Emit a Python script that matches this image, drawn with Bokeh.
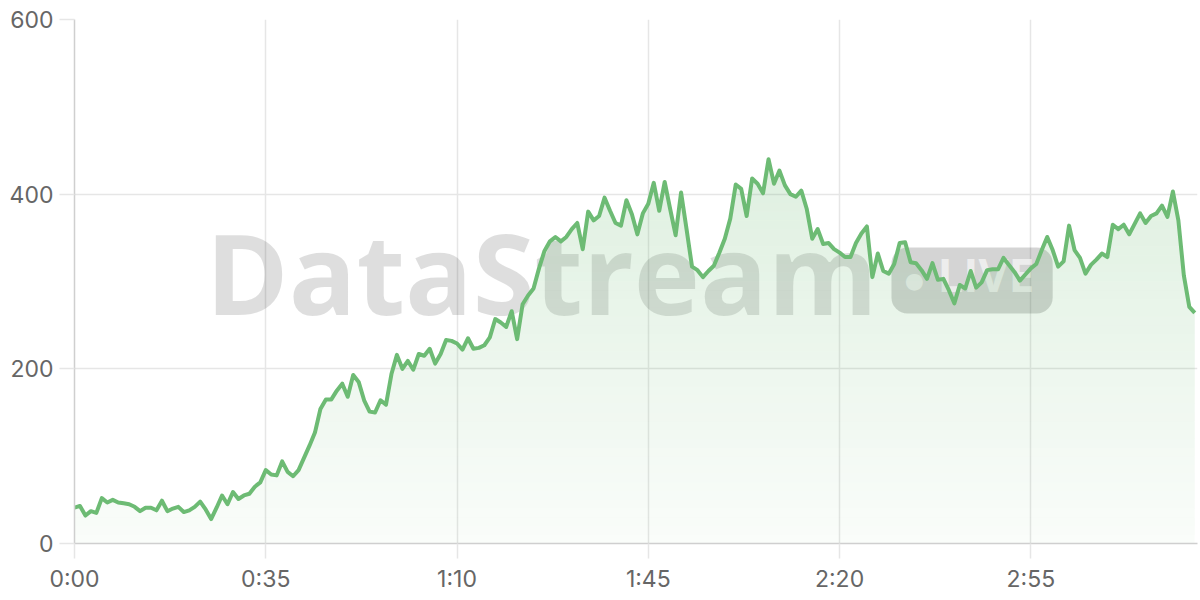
from bokeh.plotting import figure
from bokeh.models import FixedTicker, Label, BoxAnnotation, Range1d
from bokeh.embed import file_html
from bokeh.resources import INLINE

# ---- data -------------------------------------------------------------
seconds = list(range(206))
values = [41, 43, 32, 37, 35, 52, 47, 50, 47, 46, 45, 42, 37, 41, 41, 38, 49, 37, 40, 42,
          36, 38, 42, 48, 39, 28, 41, 55, 45, 59, 51, 55, 57, 65, 70, 84, 79, 78, 94, 82,
          77, 84, 98, 112, 127, 154, 165, 165, 175, 183, 168, 193, 185, 164, 151, 150, 164, 159, 194, 216,
          200, 209, 199, 217, 215, 223, 206, 217, 233, 232, 229, 222, 235, 223, 224, 227, 236, 257, 253, 248,
          266, 234, 274, 284, 292, 315, 335, 346, 351, 346, 351, 360, 367, 337, 380, 370, 375, 396, 381, 367,
          364, 393, 377, 354, 378, 389, 413, 381, 414, 383, 353, 402, 360, 317, 313, 305, 312, 318, 333, 349,
          372, 411, 406, 375, 418, 412, 401, 440, 412, 427, 410, 400, 397, 404, 383, 349, 360, 343, 344, 337,
          333, 328, 328, 344, 355, 363, 305, 332, 312, 309, 320, 344, 345, 322, 321, 313, 303, 321, 302, 303,
          290, 275, 296, 292, 312, 293, 299, 313, 314, 314, 327, 319, 311, 301, 308, 315, 320, 336, 351, 336,
          317, 323, 364, 336, 327, 309, 319, 325, 332, 328, 365, 360, 365, 354, 366, 378, 367, 375, 378, 387,
          374, 403, 370, 307, 271, 264]
x_ticks = [0, 35, 70, 105, 140, 175]
x_tick_labels = ["0:00", "0:35", "1:10", "1:45", "2:20", "2:55"]
y_ticks = [0, 200, 400, 600]

LINE = "#6dbb74"
GRID = "#e6e6e6"
AXIS = "#cfcfcf"
LABEL = "#666666"

p = figure(width=1198, height=598, output_backend="svg", toolbar_location=None,
           x_range=Range1d(0, 205.5), y_range=Range1d(0, 600),
           min_border_left=74, min_border_right=1, min_border_top=19, min_border_bottom=55)
p.outline_line_color = None
p.background_fill_color = "white"
p.border_fill_color = "white"

# grid
for g in (p.xgrid, p.ygrid):
    g.grid_line_color = GRID
    g.grid_line_width = 1.5
p.xgrid.ticker = FixedTicker(ticks=x_ticks)
p.ygrid.ticker = FixedTicker(ticks=y_ticks)

# axes
p.xaxis.ticker = FixedTicker(ticks=x_ticks)
p.xaxis.major_label_overrides = dict(zip(x_ticks, x_tick_labels))
p.yaxis.ticker = FixedTicker(ticks=y_ticks)
for ax in (p.xaxis[0], p.yaxis[0]):
    ax.axis_line_color = AXIS
    ax.axis_line_width = 1.5
    ax.major_tick_line_color = GRID
    ax.major_tick_line_width = 1.5
    ax.major_tick_out = 15
    ax.major_tick_in = 0
    ax.minor_tick_line_color = None
    ax.major_label_text_font = "Inter"
    ax.major_label_text_font_size = "23px"
    ax.major_label_text_color = LABEL
p.xaxis.major_label_standoff = 6
p.yaxis.major_label_standoff = 6

# watermark (behind the data)
wm = Label(x=85.5, y=312, text="DataStream", text_align="center", text_baseline="alphabetic",
           text_font="Open Sans", text_font_style="bold", text_font_size="112px",
           text_color="#000000", text_alpha=0.13, level="underlay")
p.add_layout(wm)
badge = BoxAnnotation(left=149.5, right=179.0, bottom=263.4, top=338.9,
                      fill_color="#000000", fill_alpha=0.17, line_color=None,
                      border_radius=16, level="underlay")
p.add_layout(badge)
live = Label(x=157.9, y=309, text="LIVE", text_align="left", text_baseline="alphabetic",
             text_font="Open Sans", text_font_style="bold", text_font_size="46px",
             text_color="#ffffff", text_alpha=0.6, level="underlay")
p.add_layout(live)
dot = Label(x=153.7, y=301, text="\u25cf", text_align="center", text_baseline="middle",
            text_font="DejaVu Sans", text_font_size="22px",
            text_color="#ffffff", text_alpha=0.6, level="underlay")
p.add_layout(dot)

# gradient-like area fill: horizontal bands with increasing alpha
top_val = 440.0
n_bands = 44
step = top_val / n_bands
for k in range(n_bands + 1):
    lo = k * step
    hi = (k + 1) * step if k < n_bands else 10000
    y1 = [min(v, lo) for v in values]
    y2 = [min(v, hi) for v in values]
    a = 0.035 + 0.19 * min((k + 0.5) / n_bands, 1.0)
    p.varea(x=seconds, y1=y1, y2=y2, fill_color=LINE, fill_alpha=a)

p.line(seconds, values, line_color=LINE, line_width=4, line_join="round")

open("out.html", "w").write(file_html(p, INLINE))
